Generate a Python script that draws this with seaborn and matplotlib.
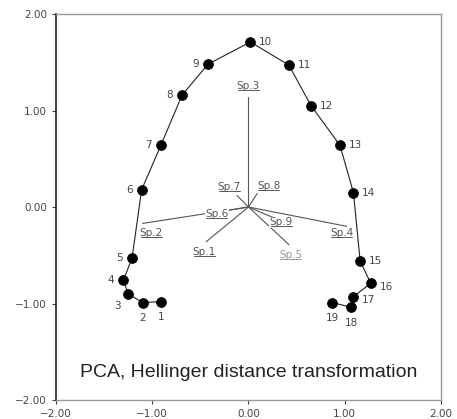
import matplotlib
matplotlib.use('Agg')
import matplotlib.pyplot as plt
from matplotlib.lines import Line2D
import seaborn as sns
import pandas as pd

# site scores (PC1, PC2)
site_ids = [str(i) for i in range(1, 20)]
site_x = [-0.91, -1.10, -1.25, -1.30, -1.21, -1.11, -0.91, -0.69, -0.42, 0.02,
          0.42, 0.65, 0.95, 1.09, 1.16, 1.27, 1.09, 1.07, 0.87]
site_y = [-0.98, -0.99, -0.90, -0.76, -0.53, 0.18, 0.64, 1.16, 1.48, 1.71,
          1.47, 1.05, 0.64, 0.15, -0.56, -0.79, -0.93, -1.04, -0.99]

# species loadings (arrow tips) and label positions
species = ['Sp.1', 'Sp.2', 'Sp.3', 'Sp.4', 'Sp.5', 'Sp.6', 'Sp.7', 'Sp.8', 'Sp.9']
sp_x = [-0.44, -1.10, 0.00, 1.02, 0.42, -0.30, -0.12, 0.09, 0.28]
sp_y = [-0.36, -0.17, 1.14, -0.20, -0.39, -0.05, 0.12, 0.14, -0.12]
sp_lab_x = [-0.46, -1.01, 0.00, 0.97, 0.44, -0.33, -0.20, 0.21, 0.34]
sp_lab_y = [-0.47, -0.27, 1.25, -0.27, -0.50, -0.07, 0.21, 0.22, -0.16]

# offsets (points) for site labels
label_off = {'1': (0, -11), '2': (0, -11), '3': (-8, -9), '4': (-9, 0), '5': (-9, 0),
             '6': (-9, 0), '7': (-9, 0), '8': (-9, 0), '9': (-9, 0),
             '10': (11, 0), '11': (11, 0), '12': (11, 0), '13': (11, 0), '14': (11, 0),
             '15': (11, 0), '16': (11, -3), '17': (11, -2), '18': (0, -11), '19': (0, -11)}

sites = pd.DataFrame({'id': site_ids, 'x': site_x, 'y': site_y})

sns.set_style('white')
plt.rcParams['font.family'] = ['DejaVu Sans']

fig = plt.figure(figsize=(4.57, 4.19), dpi=100)
ax = fig.add_axes([0.1225, 0.0453, 0.8425, 0.9213])

# species vectors
sp_texts = []
for name, x, y, lx, ly in zip(species, sp_x, sp_y, sp_lab_x, sp_lab_y):
    ax.plot([0, x], [0, y], color='#555555', lw=0.8, zorder=1)
    col = '#999999' if name == 'Sp.5' else '#555555'
    t = ax.text(lx, ly, name, fontsize=7.5, color=col, ha='center', va='center',
                zorder=3, bbox=dict(boxstyle='square,pad=0.05', fc='white', ec='none'))
    sp_texts.append((t, col))

# site path and points
sns.lineplot(data=sites, x='x', y='y', sort=False, estimator=None, color='#222222',
             lw=0.8, ax=ax, zorder=2)
sns.scatterplot(data=sites, x='x', y='y', color='black', s=50, edgecolor='black',
                ax=ax, zorder=4)
for sid, x, y in zip(site_ids, site_x, site_y):
    dx, dy = label_off[sid]
    ax.annotate(sid, (x, y), xytext=(dx, dy), textcoords='offset points',
                fontsize=7.5, color='#444444', ha='center', va='center')

ax.text(0, -1.72, 'PCA, Hellinger distance transformation', fontsize=14,
        ha='center', va='center', color='#222222', family='Liberation Sans')

ax.set_xlim(-2, 2)
ax.set_ylim(-2, 2)
ticks = [-2, -1, 0, 1, 2]
ax.set_xticks(ticks)
ax.set_yticks(ticks)
ax.set_xticklabels(['\u22122.00', '\u22121.00', '0.00', '1.00', '2.00'])
ax.set_yticklabels(['\u22122.00', '\u22121.00', '0.00', '1.00', '2.00'])
ax.tick_params(axis='both', direction='out', length=3, width=0.8, labelsize=7.5,
               colors='#444444', left=True, bottom=True)
ax.set_xlabel('')
ax.set_ylabel('')
for side in ['top', 'right', 'bottom']:
    ax.spines[side].set_color('#999999')
    ax.spines[side].set_linewidth(1.0)
ax.spines['left'].set_color('#222222')
ax.spines['left'].set_linewidth(1.2)

# underline the species labels using their rendered extents
fig.canvas.draw()
renderer = fig.canvas.get_renderer()
for t, col in sp_texts:
    bb = t.get_window_extent(renderer)
    yb = bb.y0 + 1
    fig.add_artist(Line2D([bb.x0 + 1, bb.x1 - 1], [yb, yb], transform=None,
                          color=col, lw=0.7, zorder=5))

fig.savefig('out.png', dpi=100)
